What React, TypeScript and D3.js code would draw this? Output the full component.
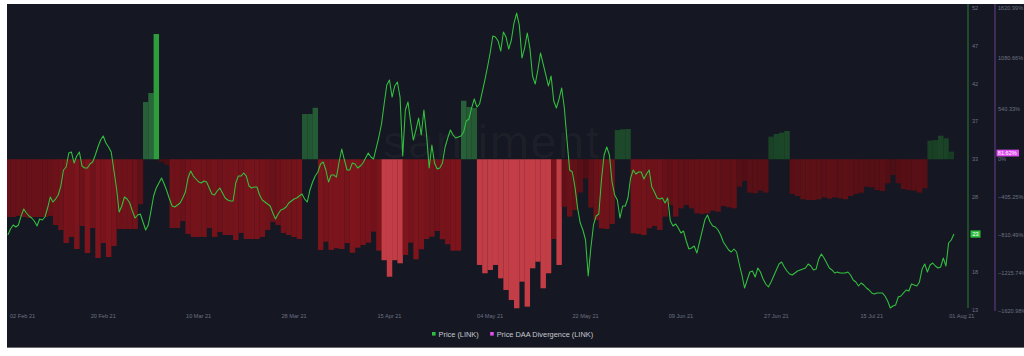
import React from "react";
import * as d3 from "d3";

// ---------- DATA ----------
// Daily Price DAA Divergence (LINK), %, starting 02 Feb 2021
const divergence: number[] = [
  -619, -619, -608, -619, -630, -619, -619, -619, -608, -705,
  -758, -898, -833, -962, -715, -1005, -737, -1058, -898, -1048,
  -930, -748, -748, -748, -748, -482, 613, 710, 1342, -29,
  -61, -737, -737, -662, -801, -833, -833, -833, -737, -833,
  -780, -812, -812, -866, -790, -855, -855, -855, -833, -758,
  -672, -705, -790, -812, -833, -855, 485, 485, 552, -972,
  -884, -972, -954, -962, -898, -1002, -948, -919, -894, -776,
  -980, -1082, -1259, -1082, -1115, -1026, -894, -1072, -965, -855,
  -830, -769, -858, -911, -980, -980, 627, 560, 549, -1133,
  -1222, -1187, -1133, -1276, -1401, -1509, -1597, -1312, -1580, -1169,
  -1098, -1383, -1222, -855, -1133, -509, -615, -544, -356, -204,
  -517, -651, -740, -748, -694, 313, 321, 324, -794, -801,
  -812, -740, -715, -758, -616, -490, -616, -526, -490, -526,
  -579, -587, -579, -551, -562, -501, -515, -526, -294, -233,
  -358, -365, -337, -358, 242, 271, 285, 303, -372, -394,
  -429, -437, -437, -429, -408, -423, -408, -418, -429, -394,
  -372, -358, -294, -301, -330, -340, -258, -169, -258, -319,
  -330, -337, -358, -311, 199, 206, 252, 225, 81.62,
];

// Price (LINK), USD, every 12 hours starting 02 Feb 2021 00:00
const priceLink: number[] = [
  22.68, 23.46, 23.98, 23.72, 23.98, 25.14, 26.04, 25.53, 25.14, 24.88,
  24.49, 23.85, 24.75, 24.62, 25.01, 26.17, 27.59, 26.95, 27.33, 27.85,
  29.01, 31.08, 31.47, 33.27, 33.40, 31.98, 32.89, 33.40, 31.59, 31.34,
  31.34, 31.85, 32.11, 33.02, 34.05, 34.95, 35.47, 34.56, 34.05, 33.40,
  31.08, 28.75, 25.65, 26.43, 27.59, 27.33, 26.82, 25.78, 24.88, 25.27,
  25.40, 24.36, 23.33, 23.98, 25.78, 27.72, 28.75, 29.40, 30.05, 29.27,
  28.37, 27.33, 26.43, 26.30, 26.56, 26.82, 27.46, 28.24, 30.05, 30.95,
  30.30, 29.92, 29.53, 29.40, 29.66, 29.53, 28.75, 27.98, 27.85, 28.37,
  28.75, 28.11, 27.46, 27.20, 27.08, 27.08, 29.40, 30.30, 30.30, 30.69,
  30.30, 29.01, 28.75, 28.88, 28.88, 27.85, 27.20, 26.95, 26.69, 26.43,
  25.53, 24.75, 25.40, 25.91, 26.04, 26.30, 26.82, 27.08, 27.33, 27.46,
  27.72, 27.98, 27.33, 26.95, 28.50, 29.53, 30.30, 30.82, 31.85, 32.11,
  31.08, 29.53, 30.43, 30.43, 30.17, 32.11, 33.79, 32.37, 31.08, 31.08,
  31.98, 31.85, 31.34, 31.59, 31.98, 32.63, 33.27, 32.76, 32.50, 33.92,
  35.34, 37.02, 39.60, 42.05, 42.70, 40.50, 41.93, 42.44, 40.50, 32.89,
  38.83, 39.86, 37.28, 34.95, 36.24, 37.79, 35.60, 38.83, 35.60, 31.34,
  34.31, 31.98, 31.21, 31.34, 31.98, 34.05, 35.21, 36.24, 35.60, 35.21,
  35.34, 35.47, 35.99, 37.41, 37.66, 39.08, 40.25, 39.21, 39.60, 41.15,
  42.70, 44.38, 46.19, 48.38, 48.25, 47.74, 46.44, 48.90, 48.25, 46.70,
  47.87, 50.06, 51.35, 49.80, 45.54, 46.83, 48.77, 46.83, 43.22, 42.18,
  43.99, 46.19, 44.77, 43.35, 41.93, 43.22, 39.99, 39.08, 40.25, 41.67,
  39.08, 34.95, 31.08, 30.82, 28.88, 26.17, 24.23, 23.33, 22.04, 17.39,
  21.01, 23.98, 25.14, 25.40, 29.79, 33.02, 34.05, 33.02, 29.53, 27.85,
  27.20, 24.88, 26.43, 26.43, 27.46, 30.05, 31.08, 30.56, 30.82, 30.82,
  29.92, 30.56, 31.08, 28.88, 28.24, 27.46, 27.33, 27.46, 26.82, 27.46,
  24.49, 23.85, 24.11, 23.59, 22.94, 23.20, 21.91, 20.88, 21.01, 21.26,
  20.36, 21.78, 23.20, 24.62, 25.27, 24.36, 23.85, 23.72, 23.33, 22.68,
  21.78, 21.26, 20.75, 20.49, 20.88, 20.49, 18.94, 17.52, 15.84, 16.87,
  17.91, 18.04, 17.26, 18.42, 17.91, 17.00, 16.36, 15.97, 16.62, 17.39,
  18.17, 18.94, 19.20, 18.55, 18.04, 17.65, 17.52, 17.78, 18.04, 18.17,
  18.29, 18.42, 18.94, 18.68, 18.17, 18.29, 19.59, 20.23, 19.71, 19.07,
  18.42, 18.17, 17.78, 17.91, 17.78, 17.78, 17.78, 17.91, 17.52, 16.87,
  16.62, 16.10, 16.49, 16.23, 15.84, 15.58, 15.20, 15.07, 15.20, 15.20,
  15.20, 14.81, 14.16, 13.26, 13.52, 13.65, 14.68, 14.81, 15.20, 15.58,
  15.45, 16.36, 16.23, 16.10, 16.62, 18.29, 18.94, 17.91, 18.81, 19.07,
  18.68, 18.42, 18.55, 19.71, 18.68, 21.65, 22.04, 22.81,
];

const xTickDates: string[] = [
  "2021-02-02", "2021-02-20", "2021-03-10", "2021-03-28", "2021-04-15", "2021-05-04",
  "2021-05-22", "2021-06-09", "2021-06-27", "2021-07-15", "2021-08-01",
];
const priceDomain: [number, number] = [13, 52];
const divergenceDomain: [number, number] = [-1620.98, 1620.99];
const divergenceTicks: number[] = [1620.99, 1080.66, 540.33, 0, -405.25, -810.49, -1215.74, -1620.98];
const legendItems = [
  { label: "Price (LINK)", color: "#2ebd3e" },
  { label: "Price DAA Divergence (LINK)", color: "#e04ef0" },
];

// ---------- CHART ----------
const W = 1024;
const H = 356;
const DAY = 86400000;
const START = Date.UTC(2021, 1, 2);
const FONT = "'Liberation Sans', Arial, sans-serif";

export default function App() {
  const plotLeft = 7;
  const plotRight = 958;
  const x = d3
    .scaleUtc()
    .domain([new Date(START), new Date(START + 178 * DAY)])
    .range([7.85, 951.25]);
  const yPrice = d3.scaleLinear().domain(priceDomain).range([310, 8]);
  const yDiv = d3.scaleLinear().domain(divergenceDomain).range([310.5, 8]);
  const dayW = x(new Date(START + DAY)) - x(new Date(START));

  const greenScale = d3
    .scaleLinear<string>()
    .domain([150, 700])
    .range(["#173c22", "#2a663c"])
    .clamp(true);
  const redScale = d3
    .scaleLinear<string>()
    .domain([-100, -1000])
    .range(["#4a0d13", "#7e141c"])
    .clamp(true);
  const barColor = (v: number) => {
    if (v >= 1000) return "#2f9d3c";
    if (v >= 0) return greenScale(v);
    if (v < -1075) return "#c23d45";
    return redScale(v);
  };

  const line = d3
    .line<number>()
    .x((_, i) => x(new Date(START + (i * DAY) / 2)))
    .y((d) => yPrice(d))
    .curve(d3.curveLinear);

  const priceTicks = d3.range(9).map((i) => priceDomain[0] + (i * (priceDomain[1] - priceDomain[0])) / 8);
  const fmtDate = d3.utcFormat("%d %b %y");
  const lastPrice = priceLink[priceLink.length - 1];
  const lastDiv = divergence[divergence.length - 1];
  const zero = yDiv(0);

  const legendX = 432;
  const legendY = 334;

  return (
    <svg
      width={W}
      height={H}
      style={{ position: "absolute", left: 0, top: 0, display: "block" }}
      fontFamily={FONT}
    >
      <defs>
        <clipPath id="plotClip">
          <rect x={plotLeft} y={4} width={plotRight - plotLeft} height={308} />
        </clipPath>
      </defs>
      <rect x={0} y={0} width={W} height={H} fill="#ffffff" />
      <rect x={7} y={4} width={W - 7} height={343} fill="#151822" />
      <line x1={7} x2={W} y1={347.5} y2={347.5} stroke="#6b6b70" strokeWidth={1} />

      {/* watermark */}
      <text x={383} y={158} fontSize={47} fill="#ffffff" fillOpacity={0.035} fontFamily={FONT} letterSpacing={1.5}>
        santiment
      </text>

      <g clipPath="url(#plotClip)">
        {divergence.map((v, i) => {
          const cx = x(new Date(START + i * DAY));
          const y0 = yDiv(Math.max(0, v));
          const y1 = yDiv(Math.min(0, v));
          return (
            <rect
              key={i}
              x={cx - dayW / 2}
              width={dayW + 0.15}
              y={y0}
              height={Math.max(0.5, y1 - y0)}
              fill={barColor(v)}
            />
          );
        })}
        <path d={line(priceLink) || ""} fill="none" stroke="#33c23f" strokeWidth={1.05} strokeLinejoin="round" />
      </g>

      {/* x axis labels */}
      {xTickDates.map((s, i) => {
        const d = new Date(s + "T00:00:00Z");
        const px = x(d);
        const first = i === 0;
        return (
          <text
            key={s}
            x={first ? plotLeft + 3 : px}
            y={318}
            fontSize={5.6}
            fill="#6c7082"
            textAnchor={first ? "start" : "middle"}
          >
            {fmtDate(d)}
          </text>
        );
      })}

      {/* price axis */}
      <line x1={968} x2={968} y1={4} y2={308} stroke="#2b7f33" strokeWidth={1} />
      {priceTicks.map((t) => (
        <text key={t} x={972} y={yPrice(t) + 2} fontSize={5.6} fill="#6c7082">
          {d3.format(".0f")(t)}
        </text>
      ))}
      <rect x={970.5} y={yPrice(lastPrice) - 3.6} width={10} height={7.2} fill="#2fbf3e" />
      <text x={975.5} y={yPrice(lastPrice) + 2} fontSize={5.6} fill="#ffffff" textAnchor="middle">
        {d3.format(".0f")(lastPrice)}
      </text>

      {/* divergence axis */}
      <line x1={995} x2={995} y1={4} y2={311} stroke="#6a3d8f" strokeWidth={1} />
      {divergenceTicks.map((t) => (
        <text key={t} x={998} y={yDiv(t) + 2} fontSize={5.6} fill="#6c7082">
          {t === 0 ? "0%" : d3.format(".2f")(t) + "%"}
        </text>
      ))}
      <rect x={996.5} y={zero - 9.6} width={22.5} height={6.8} fill="#e04ef0" />
      <text x={997.8} y={zero - 4.3} fontSize={5.6} fill="#ffffff">
        {d3.format(".2f")(lastDiv) + "%"}
      </text>

      {/* legend */}
      {(() => {
        let cx = legendX;
        return legendItems.map((it) => {
          const g = (
            <g key={it.label}>
              <rect x={cx} y={legendY - 2} width={3.6} height={3.6} fill={it.color} />
              <text x={cx + 6.5} y={legendY + 2.6} fontSize={7.4} fill="#c5c7d0">
                {it.label}
              </text>
            </g>
          );
          cx += 6.5 + it.label.length * 3.72 + 7;
          return g;
        });
      })()}
    </svg>
  );
}
